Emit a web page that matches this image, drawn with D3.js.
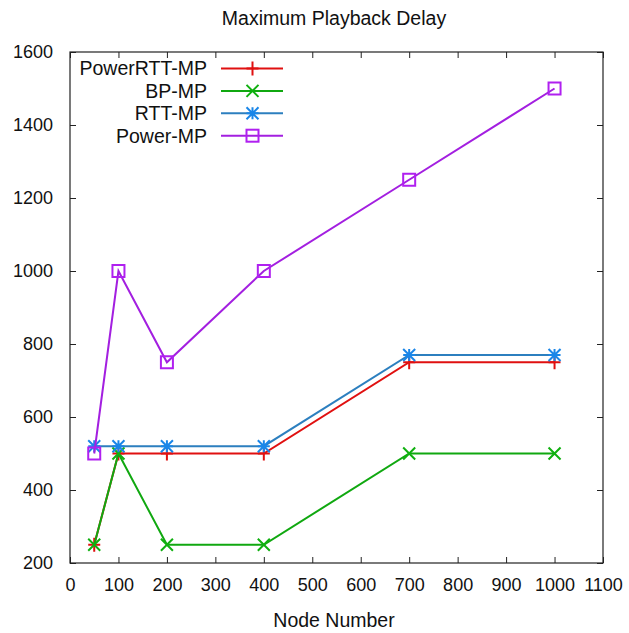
<!DOCTYPE html>
<html>
<head>
<meta charset="utf-8">
<script src="https://cdn.jsdelivr.net/npm/d3@7"></script>
<style>
  html, body { margin: 0; padding: 0; background: #fff; }
  svg { display: block; font-family: "Liberation Sans", Arial, sans-serif; }
</style>
</head>
<body>
<svg id="chart" width="629" height="633"></svg>
<script>
// Node counts on the x axis
const nodes = [50, 100, 200, 400, 700, 1000];

// Maximum playback delay per protocol
const powerRttMp = [250, 500, 500, 500, 750, 750];
const bpMp       = [250, 500, 250, 250, 500, 500];
const rttMp      = [520, 520, 520, 520, 770, 770];
const powerMp    = [500, 1000, 750, 1000, 1250, 1500];

const seriesNames = ["PowerRTT-MP", "BP-MP", "RTT-MP", "Power-MP"];
const seriesValues = [powerRttMp, bpMp, rttMp, powerMp];
const lineColors = ["#e01010", "#10a810", "#2c7fbf", "#a31fe0"];
const markColors = ["#e01010", "#10b010", "#1a86e8", "#b020f0"];
const markTypes = ["plus", "cross", "star", "square"];

const xTicks = [0, 100, 200, 300, 400, 500, 600, 700, 800, 900, 1000, 1100];
const yTicks = [200, 400, 600, 800, 1000, 1200, 1400, 1600];

const plotL = 70, plotR = 603, plotT = 52, plotB = 563;
const svg = d3.select("#chart");

const x = d3.scaleLinear().domain([0, 1100]).range([plotL, plotR]);
const y = d3.scaleLinear().domain([200, 1600]).range([plotB, plotT]);
const fmt = d3.format("d");

// Title
svg.append("text")
  .attr("x", 334).attr("y", 25)
  .attr("text-anchor", "middle")
  .attr("font-size", 19.5).attr("fill", "#111")
  .text("Maximum Playback Delay");

// Axes with inward ticks, mirrored on top and right
const tickLen = 6;
const axB = svg.append("g").attr("transform", `translate(0,${plotB})`)
  .call(d3.axisBottom(x).tickValues(xTicks).tickFormat(fmt).tickSizeInner(-tickLen).tickSizeOuter(0).tickPadding(15));
const axT = svg.append("g").attr("transform", `translate(0,${plotT})`)
  .call(d3.axisTop(x).tickValues(xTicks).tickSizeInner(-tickLen).tickSizeOuter(0).tickFormat(""));
const axL = svg.append("g").attr("transform", `translate(${plotL},0)`)
  .call(d3.axisLeft(y).tickValues(yTicks).tickFormat(fmt).tickSizeInner(-tickLen).tickSizeOuter(0).tickPadding(17));
const axR = svg.append("g").attr("transform", `translate(${plotR},0)`)
  .call(d3.axisRight(y).tickValues(yTicks).tickSizeInner(-tickLen).tickSizeOuter(0).tickFormat(""));

[axB, axT, axL, axR].forEach(a => {
  a.select(".domain").remove();
  a.selectAll(".tick line").attr("stroke", "#222").attr("stroke-width", 1);
  a.selectAll(".tick text").attr("font-size", 18).attr("fill", "#111")
    .attr("font-family", "Liberation Sans, Arial, sans-serif");
});
axB.selectAll(".tick text").attr("dy", "0.71em");
axL.selectAll(".tick text").attr("dy", "0.28em");

// Frame
svg.append("rect")
  .attr("x", plotL).attr("y", plotT)
  .attr("width", plotR - plotL).attr("height", plotB - plotT)
  .attr("fill", "none").attr("stroke", "#222").attr("stroke-width", 1.2);

// X axis title
svg.append("text")
  .attr("x", 334).attr("y", 627)
  .attr("text-anchor", "middle")
  .attr("font-size", 19.5).attr("fill", "#111")
  .text("Node Number");

// Marker drawing
function drawMark(g, type, cx, cy, color) {
  const r = 6;
  if (type === "plus") {
    const rv = 7;
    g.append("path").attr("d", `M${cx - r},${cy}H${cx + r}M${cx},${cy - rv}V${cy + rv}`)
      .attr("stroke", color).attr("stroke-width", 2).attr("fill", "none");
  } else if (type === "cross") {
    g.append("path").attr("d", `M${cx - r},${cy - r}L${cx + r},${cy + r}M${cx - r},${cy + r}L${cx + r},${cy - r}`)
      .attr("stroke", color).attr("stroke-width", 2).attr("fill", "none");
  } else if (type === "star") {
    g.append("path").attr("d",
      `M${cx - r},${cy}H${cx + r}M${cx},${cy - r}V${cy + r}` +
      `M${cx - r},${cy - r}L${cx + r},${cy + r}M${cx - r},${cy + r}L${cx + r},${cy - r}`)
      .attr("stroke", color).attr("stroke-width", 2).attr("fill", "none");
  } else if (type === "square") {
    g.append("rect").attr("x", cx - r).attr("y", cy - r)
      .attr("width", 2 * r).attr("height", 2 * r)
      .attr("stroke", color).attr("stroke-width", 2).attr("fill", "none");
  }
}

// Series lines and markers
const line = d3.line().x(d => x(d[0])).y(d => y(d[1]));
seriesValues.forEach((vals, i) => {
  const g = svg.append("g");
  const pts = nodes.map((n, j) => [n, vals[j]]);
  g.append("path").attr("d", line(pts))
    .attr("fill", "none").attr("stroke", lineColors[i]).attr("stroke-width", 2);
  pts.forEach(p => drawMark(g, markTypes[i], x(p[0]), y(p[1]), markColors[i]));
});

// Legend
const legend = svg.append("g");
seriesNames.forEach((name, i) => {
  const ly = 68.5 + i * 22.4;
  legend.append("text")
    .attr("x", 207).attr("y", ly).attr("dy", "0.35em")
    .attr("text-anchor", "end").attr("font-size", 19.5).attr("fill", "#111")
    .text(name);
  legend.append("line")
    .attr("x1", 221).attr("x2", 283).attr("y1", ly).attr("y2", ly)
    .attr("stroke", lineColors[i]).attr("stroke-width", 2);
  drawMark(legend, markTypes[i], 252.5, ly, markColors[i]);
});
</script>
</body>
</html>
